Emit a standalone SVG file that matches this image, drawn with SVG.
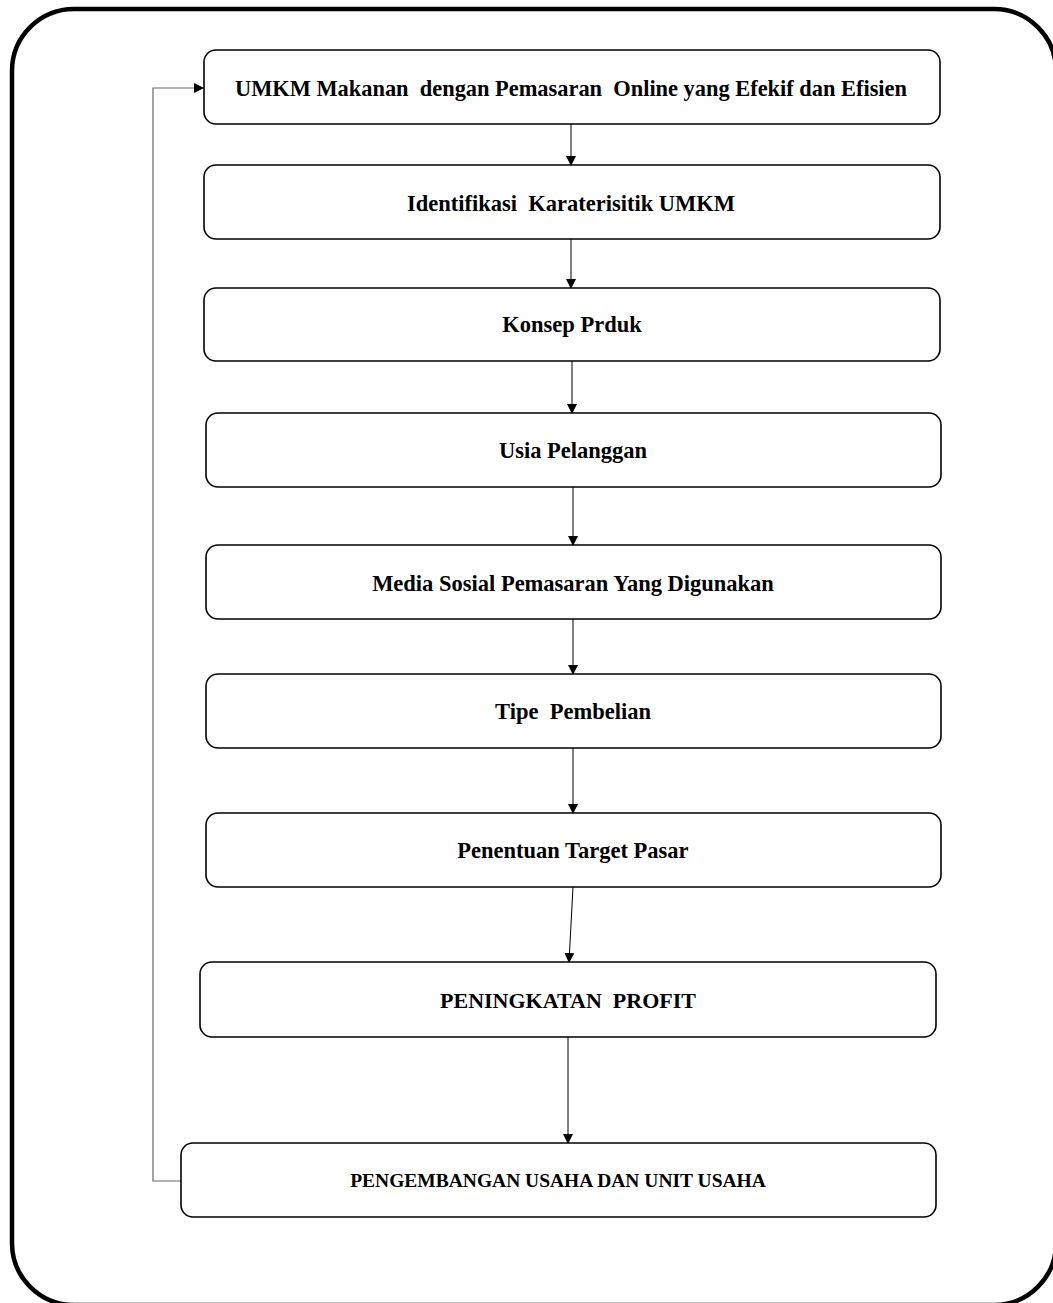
<svg xmlns="http://www.w3.org/2000/svg" width="1053" height="1303" viewBox="0 0 1053 1303">
<style>
.node{fill:#fff;stroke:#000;stroke-width:1.6}
.t{font-family:"Liberation Serif","Times New Roman",serif;font-weight:bold;font-size:22.5px;fill:#000;text-anchor:middle;white-space:pre}
.c{fill:none;stroke:#000;stroke-width:1}
.fb{fill:none;stroke:#666;stroke-width:1.2}
</style>
<defs>
<marker id="ah" markerWidth="10" markerHeight="10" refX="9" refY="5" orient="auto" markerUnits="userSpaceOnUse">
<path d="M0,0 L10,5 L0,10 Z" fill="#000"/>
</marker>
</defs>
<rect x="12" y="9" width="1044" height="1296" rx="62" fill="#fff" stroke="#000" stroke-width="4.5"/>
<g id="connectors">
<line class="c" x1="571" y1="124" x2="571" y2="165" marker-end="url(#ah)"/>
<line class="c" x1="571" y1="239" x2="571" y2="288" marker-end="url(#ah)"/>
<line class="c" x1="572" y1="361" x2="572" y2="413" marker-end="url(#ah)"/>
<line class="c" x1="573" y1="487" x2="573" y2="545" marker-end="url(#ah)"/>
<line class="c" x1="573" y1="619" x2="573" y2="674" marker-end="url(#ah)"/>
<line class="c" x1="573" y1="748" x2="573" y2="813" marker-end="url(#ah)"/>
<line class="c" x1="573" y1="887" x2="569" y2="962" marker-end="url(#ah)"/>
<line class="c" x1="568" y1="1037" x2="568" y2="1143" marker-end="url(#ah)"/>
<polyline class="fb" points="181,1181 153,1181 153,88 203,88"/>
<path d="M194,83 L204,88 L194,93 Z" fill="#000"/>
</g>
<g id="n1"><rect class="node" x="204" y="50" width="736" height="74" rx="12"/><text class="t" x="571" y="96" style="font-size:24px" textLength="672" lengthAdjust="spacingAndGlyphs">UMKM Makanan  dengan Pemasaran  Online yang Efekif dan Efisien</text></g>
<g id="n2"><rect class="node" x="204" y="165" width="736" height="74" rx="12"/><text class="t" x="571" y="211">Identifikasi  Karaterisitik UMKM</text></g>
<g id="n3"><rect class="node" x="204" y="288" width="736" height="73" rx="12"/><text class="t" x="572" y="332">Konsep Prduk</text></g>
<g id="n4"><rect class="node" x="206" y="413" width="735" height="74" rx="12"/><text class="t" x="573" y="458">Usia Pelanggan</text></g>
<g id="n5"><rect class="node" x="206" y="545" width="735" height="74" rx="12"/><text class="t" x="573" y="591">Media Sosial Pemasaran Yang Digunakan</text></g>
<g id="n6"><rect class="node" x="206" y="674" width="735" height="74" rx="12"/><text class="t" x="573" y="719">Tipe  Pembelian</text></g>
<g id="n7"><rect class="node" x="206" y="813" width="735" height="74" rx="12"/><text class="t" x="573" y="858">Penentuan Target Pasar</text></g>
<g id="n8"><rect class="node" x="200" y="962" width="736" height="75" rx="12"/><text class="t" x="568" y="1008" style="font-size:22px">PENINGKATAN  PROFIT</text></g>
<g id="n9"><rect class="node" x="181" y="1143" width="755" height="74" rx="12"/><text class="t" x="558" y="1187" style="font-size:19.5px">PENGEMBANGAN USAHA DAN UNIT USAHA</text></g>
</svg>
